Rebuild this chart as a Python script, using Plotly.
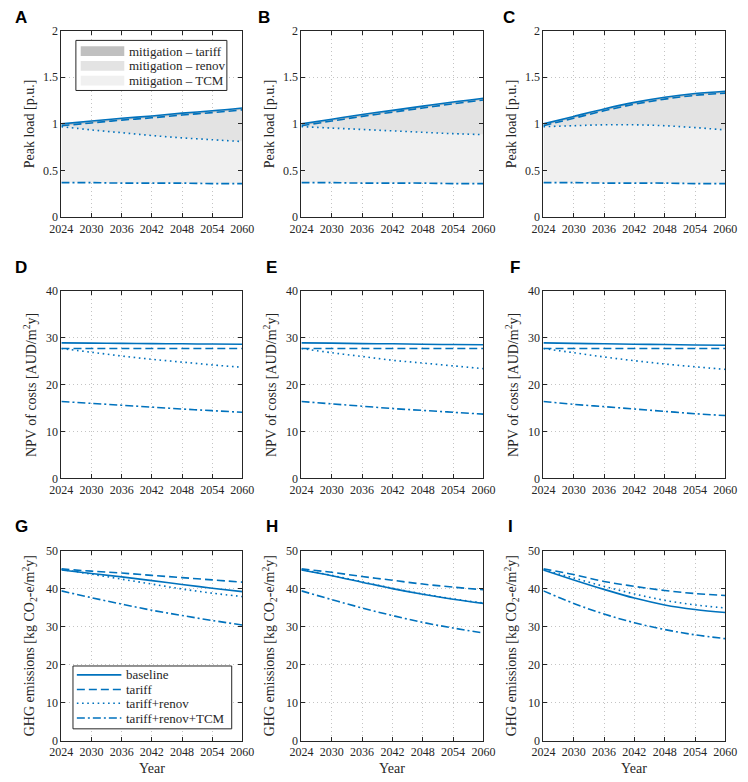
import plotly.graph_objects as go
from plotly.subplots import make_subplots

years = [2024, 2030, 2036, 2042, 2048, 2054, 2060]
year_ticks = [2024, 2030, 2036, 2042, 2048, 2054, 2060]

# ---- Peak load [p.u.] ----
peak_baseline_A = [1.00, 1.03, 1.06, 1.085, 1.115, 1.14, 1.17]
peak_tariff_A = [0.98, 1.01, 1.04, 1.065, 1.095, 1.12, 1.15]
peak_renov_A = [0.97, 0.935, 0.905, 0.875, 0.85, 0.83, 0.81]
peak_tcm_A = [0.37, 0.37, 0.365, 0.365, 0.365, 0.36, 0.36]

peak_baseline_B = [1.00, 1.05, 1.10, 1.145, 1.19, 1.235, 1.275]
peak_tariff_B = [0.98, 1.03, 1.08, 1.125, 1.17, 1.215, 1.255]
peak_renov_B = [0.97, 0.955, 0.94, 0.925, 0.91, 0.895, 0.885]
peak_tcm_B = [0.37, 0.37, 0.365, 0.365, 0.365, 0.36, 0.36]

peak_baseline_C = [1.00, 1.08, 1.16, 1.23, 1.285, 1.325, 1.35]
peak_tariff_C = [0.98, 1.06, 1.14, 1.21, 1.265, 1.305, 1.33]
peak_renov_C = [0.97, 0.98, 0.99, 0.99, 0.98, 0.96, 0.935]
peak_tcm_C = [0.37, 0.37, 0.365, 0.365, 0.365, 0.36, 0.36]

# ---- NPV of costs [AUD/m2y] ----
npv_baseline_D = [28.9, 28.85, 28.8, 28.75, 28.7, 28.65, 28.6]
npv_tariff_D = [27.7, 27.7, 27.7, 27.7, 27.7, 27.7, 27.7]
npv_renov_D = [27.7, 26.9, 26.1, 25.4, 24.8, 24.2, 23.7]
npv_tcm_D = [16.4, 16.0, 15.6, 15.2, 14.8, 14.45, 14.1]

npv_baseline_E = [28.9, 28.85, 28.75, 28.7, 28.6, 28.55, 28.5]
npv_tariff_E = [27.7, 27.7, 27.7, 27.7, 27.7, 27.7, 27.7]
npv_renov_E = [27.7, 26.8, 26.0, 25.2, 24.6, 24.0, 23.4]
npv_tcm_E = [16.4, 15.9, 15.4, 14.9, 14.5, 14.1, 13.7]

npv_baseline_F = [28.9, 28.8, 28.7, 28.6, 28.55, 28.45, 28.4]
npv_tariff_F = [27.7, 27.7, 27.7, 27.7, 27.7, 27.7, 27.7]
npv_renov_F = [27.7, 26.8, 25.9, 25.1, 24.4, 23.8, 23.25]
npv_tcm_F = [16.4, 15.8, 15.3, 14.8, 14.3, 13.8, 13.4]

# ---- GHG emissions [kg CO2-e/m2y] ----
ghg_baseline_G = [45.0, 44.1, 43.2, 42.2, 41.2, 40.2, 39.3]
ghg_tariff_G = [45.3, 44.7, 44.2, 43.6, 43.0, 42.4, 41.8]
ghg_renov_G = [45.2, 43.9, 42.6, 41.3, 40.0, 38.9, 38.0]
ghg_tcm_G = [39.5, 37.7, 36.0, 34.4, 33.0, 31.7, 30.5]

ghg_baseline_H = [45.0, 43.5, 41.8, 40.1, 38.6, 37.3, 36.2]
ghg_tariff_H = [45.3, 44.4, 43.3, 42.3, 41.3, 40.5, 39.8]
ghg_renov_H = [45.1, 43.6, 41.9, 40.2, 38.7, 37.4, 36.3]
ghg_tcm_H = [39.5, 37.2, 35.0, 33.0, 31.2, 29.7, 28.4]

ghg_baseline_I = [45.0, 42.4, 39.9, 37.6, 35.8, 34.6, 33.8]
ghg_tariff_I = [45.3, 43.8, 42.0, 40.7, 39.6, 38.8, 38.3]
ghg_renov_I = [45.1, 42.9, 40.7, 38.7, 37.0, 35.8, 35.0]
ghg_tcm_I = [39.5, 36.2, 33.4, 31.1, 29.3, 27.9, 26.9]

series_names = ["baseline", "tariff", "tariff+renov", "tariff+renov+TCM"]
fill_names = ["mitigation \u2013 tariff", "mitigation \u2013 renov", "mitigation \u2013 TCM"]
panel_letters = ["A", "B", "C", "D", "E", "F", "G", "H", "I"]
row_titles = ["Peak load [p.u.]",
              "NPV of costs [AUD/m<sup>2</sup>y]",
              "GHG emissions [kg CO<sub>2</sub>-e/m<sup>2</sup>y]"]
row_ranges = [[0, 2], [0, 40], [0, 50]]
row_tickvals = [[0, 0.5, 1, 1.5, 2], [0, 10, 20, 30, 40], [0, 10, 20, 30, 40, 50]]
row_ticktext = [["0", "0.5", "1", "1.5", "2"], ["0", "10", "20", "30", "40"],
                ["0", "10", "20", "30", "40", "50"]]

panels = [
    [peak_baseline_A, peak_tariff_A, peak_renov_A, peak_tcm_A],
    [peak_baseline_B, peak_tariff_B, peak_renov_B, peak_tcm_B],
    [peak_baseline_C, peak_tariff_C, peak_renov_C, peak_tcm_C],
    [npv_baseline_D, npv_tariff_D, npv_renov_D, npv_tcm_D],
    [npv_baseline_E, npv_tariff_E, npv_renov_E, npv_tcm_E],
    [npv_baseline_F, npv_tariff_F, npv_renov_F, npv_tcm_F],
    [ghg_baseline_G, ghg_tariff_G, ghg_renov_G, ghg_tcm_G],
    [ghg_baseline_H, ghg_tariff_H, ghg_renov_H, ghg_tcm_H],
    [ghg_baseline_I, ghg_tariff_I, ghg_renov_I, ghg_tcm_I],
]

W, H = 748, 782
BLUE = "#0072BD"
AXC = "#262626"
SERIF = "Liberation Serif"
dashes = ["solid", "8px,4px", "1.6px,3.6px", "8px,3px,2px,3px"]
fill_cols = ["#c0c0c0", "#e3e3e3", "#f0f0f0"]

# pixel boxes of the plot areas
col_px = [(51, 238), (299, 487), (549, 737)]
row_px = [(24, 214), (289, 480), (554, 747)]


def px(x):
    return x / W


def py(y):
    return 1 - y / H


fig = make_subplots(rows=3, cols=3)

for idx, data in enumerate(panels):
    r, c = idx // 3, idx % 3
    base, tar, ren, tcm = data
    shape = "spline"
    if r == 0:
        bounds = [tcm, ren, tar, base]
        for j, ys in enumerate(bounds):
            kw = {}
            if j > 0:
                kw = dict(fill="tonexty", fillcolor=fill_cols[3 - j], name=fill_names[3 - j])
            fig.add_trace(go.Scatter(x=years, y=ys, mode="lines",
                                     line=dict(width=0, color="rgba(0,0,0,0)", shape=shape),
                                     showlegend=False, hoverinfo="skip", **kw),
                          row=r + 1, col=c + 1)
    for k, ys in enumerate([base, tar, ren, tcm]):
        fig.add_trace(go.Scatter(x=years, y=ys, mode="lines", name=series_names[k],
                                 line=dict(color=BLUE, width=1.6, dash=dashes[k], shape=shape),
                                 showlegend=False),
                      row=r + 1, col=c + 1)

annotations = []
shapes = []
for idx in range(9):
    r, c = idx // 3, idx % 3
    n = idx + 1
    xa = "xaxis" if n == 1 else f"xaxis{n}"
    ya = "yaxis" if n == 1 else f"yaxis{n}"
    x0, x1 = col_px[c]
    y0, y1 = row_px[r]
    common = dict(showline=True, linecolor=AXC, linewidth=1, mirror="allticks",
                  ticks="inside", ticklen=4, tickcolor=AXC, tickwidth=1,
                  showgrid=True, gridcolor="#c4c4c4", griddash="1px,3px", gridwidth=1,
                  zeroline=False, tickfont=dict(family=SERIF, size=12, color=AXC))
    fig.layout[xa].update(domain=[px(x0), px(x1)], range=[2024, 2060], tickvals=year_ticks,
                          ticktext=[str(t) for t in year_ticks], **common)
    fig.layout[ya].update(domain=[py(y1), py(y0)], range=row_ranges[r], tickvals=row_tickvals[r],
                          ticktext=row_ticktext[r], **common)
    annotations.append(dict(text=row_titles[r], xref="paper", yref="paper",
                            x=px(x0 - 33), y=py((y0 + y1) / 2), textangle=-90,
                            xanchor="center", yanchor="middle", showarrow=False,
                            font=dict(family=SERIF, size=14, color=AXC)))
    letter_x = [[1, 252, 505], [1, 260, 512], [1, 260, 510]][r][c]
    letter_y = [11, 265, 529][r]
    annotations.append(dict(text="<b>" + panel_letters[idx] + "</b>", xref="paper", yref="paper",
                            x=px(letter_x), y=py(letter_y), xanchor="left", yanchor="middle",
                            showarrow=False, font=dict(family="Liberation Sans", size=17, color="black")))
    if r == 2:
        annotations.append(dict(text="Year", xref="paper", yref="paper",
                                x=px((x0 + x1) / 2), y=py(775), xanchor="center", yanchor="middle",
                                showarrow=False, font=dict(family=SERIF, size=14, color=AXC)))

# ---- legend 1 (panel A): fill swatches ----
shapes.append(dict(type="rect", xref="paper", yref="paper", x0=px(66), x1=px(222), y0=py(85), y1=py(34),
                   fillcolor="white", line=dict(color=AXC, width=1), layer="above"))
leg1_rows = [45, 60, 75]
for j in range(3):
    yc = leg1_rows[j]
    shapes.append(dict(type="rect", xref="paper", yref="paper", x0=px(71), x1=px(116),
                       y0=py(yc + 5), y1=py(yc - 5), fillcolor=fill_cols[j],
                       line=dict(width=0), layer="above"))
    annotations.append(dict(text=fill_names[j], xref="paper", yref="paper", x=px(119), y=py(yc),
                            xanchor="left", yanchor="middle", showarrow=False,
                            font=dict(family=SERIF, size=13, color=AXC)))

# ---- legend 2 (panel G): line samples ----
shapes.append(dict(type="rect", xref="paper", yref="paper", x0=px(63), x1=px(227), y0=py(735), y1=py(671),
                   fillcolor="white", line=dict(color=AXC, width=1), layer="above"))
leg2_rows = [680, 695, 709, 724]
for k in range(4):
    yc = leg2_rows[k]
    shapes.append(dict(type="line", xref="paper", yref="paper", x0=px(67), x1=px(113),
                       y0=py(yc), y1=py(yc), line=dict(color=BLUE, width=1.6, dash=dashes[k]),
                       layer="above"))
    annotations.append(dict(text=series_names[k], xref="paper", yref="paper", x=px(116), y=py(yc),
                            xanchor="left", yanchor="middle", showarrow=False,
                            font=dict(family=SERIF, size=13, color=AXC)))

fig.update_layout(
    width=W, height=H, margin=dict(l=0, r=0, t=0, b=0),
    paper_bgcolor="white", plot_bgcolor="white",
    annotations=annotations, shapes=shapes, showlegend=False,
)

fig.write_html("out.html")
